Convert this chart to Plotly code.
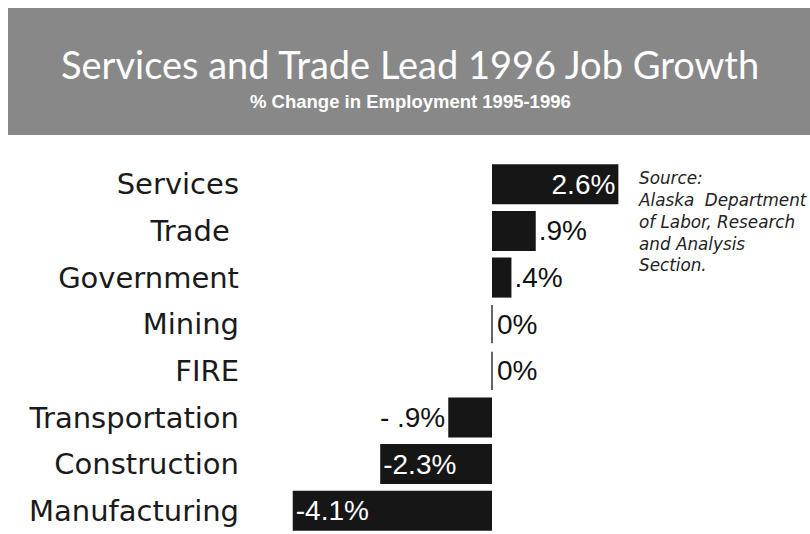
import plotly.graph_objects as go

# ---- data ----
categories = ["Services", "Trade\u00a0", "Government", "Mining", "FIRE",
              "Transportation", "Construction", "Manufacturing"]
values = [2.6, 0.9, 0.4, 0.0, 0.0, -0.9, -2.3, -4.1]
value_labels = ["2.6%", ".9%", ".4%", "0%", "0%", "-\u00a0.9%", "-2.3%", "-4.1%"]
label_inside = [True, False, False, False, False, False, True, True]

title_text = "Services and Trade Lead 1996 Job Growth"
subtitle_text = "% Change in Employment 1995-1996"
source_lines = ["Source:", "Alaska\u00a0 Department", "of Labor, Research",
                "and Analysis", "Section."]

# ---- layout geometry (pixels) ----
W, H = 810, 534
ML, MR, MT, MB = 250, 180, 161, 0
PW, PH = W - ML - MR, H - MT - MB


def px(x):
    return (x - ML) / PW


def py(y):
    return (H - MB - y) / PH


pos = list(range(len(categories)))
bar_text = [lab if v != 0 else "" for lab, v in zip(value_labels, values)]
text_pos = ["inside" if ins else "outside" for ins in label_inside]

fig = go.Figure()
fig.add_trace(go.Bar(
    x=values, y=pos, orientation="h",
    marker=dict(color="#161616", line=dict(width=0)),
    width=0.86,
    text=bar_text, textposition=text_pos, insidetextanchor="end",
    insidetextfont=dict(family="Liberation Sans, Arial, sans-serif", size=28, color="white"),
    outsidetextfont=dict(family="Liberation Sans, Arial, sans-serif", size=28, color="#111111"),
    constraintext="none", cliponaxis=False, hoverinfo="skip",
))

# thin marks for zero-valued bars
zx, zy = [], []
for i, v in enumerate(values):
    if v == 0:
        zx += [v, v, None]
        zy += [i - 0.41, i + 0.41, None]
fig.add_trace(go.Scatter(x=zx, y=zy, mode="lines",
                         line=dict(color="#333333", width=1.5),
                         hoverinfo="skip", showlegend=False))

annotations = []
for i, v in enumerate(values):
    if v == 0:
        annotations.append(dict(x=v, y=i, xref="x", yref="y", text=value_labels[i],
                                showarrow=False, xanchor="left", yanchor="middle", xshift=3,
                                font=dict(family="Liberation Sans, Arial, sans-serif",
                                          size=28, color="#111111")))

# banner title/subtitle
annotations.append(dict(x=px(410), y=py(64), xref="paper", yref="paper", text=title_text,
                        showarrow=False, xanchor="center", yanchor="middle",
                        font=dict(family="Lato, sans-serif", size=38, color="white")))
annotations.append(dict(x=px(410), y=py(102), xref="paper", yref="paper",
                        text="<b>" + subtitle_text + "</b>",
                        showarrow=False, xanchor="center", yanchor="middle",
                        font=dict(family="Liberation Sans, Arial, sans-serif", size=18.5, color="white")))
# source note
annotations.append(dict(x=px(636), y=py(166), xref="paper", yref="paper",
                        text="<br>".join(source_lines), align="left",
                        showarrow=False, xanchor="left", yanchor="top",
                        font=dict(family="DejaVu Sans, sans-serif", size=16.8, color="#222222",
                                  style="italic")))

shapes = [dict(type="rect", xref="paper", yref="paper",
               x0=px(8), x1=px(812), y0=py(135), y1=py(8),
               fillcolor="#888888", line=dict(width=0), layer="below")]

fig.update_layout(
    width=W, height=H,
    margin=dict(l=ML, r=MR, t=MT, b=MB, pad=0),
    paper_bgcolor="white", plot_bgcolor="white",
    showlegend=False,
    bargap=0.14,
    xaxis=dict(range=[-(492 - ML) / 48.6, -(492 - ML) / 48.6 + PW / 48.6],
               visible=False, fixedrange=True),
    yaxis=dict(range=[len(categories) - 0.5, -0.5], tickmode="array",
               tickvals=pos, ticktext=categories, showgrid=False, zeroline=False,
               showline=False, ticks="", ticklabelstandoff=10,
               tickfont=dict(family="DejaVu Sans, sans-serif", size=29, color="#1a1a1a"),
               fixedrange=True),
    annotations=annotations,
    shapes=shapes,
)

fig.write_html("out.html", config={"displayModeBar": False})
